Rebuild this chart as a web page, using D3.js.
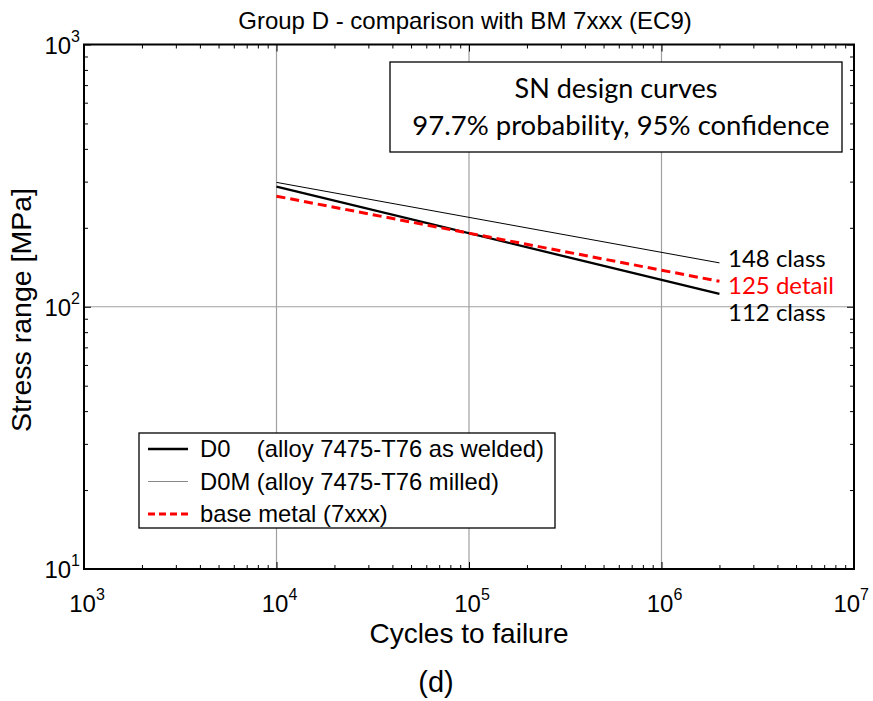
<!DOCTYPE html>
<html><head><meta charset="utf-8">
<script src="https://cdn.jsdelivr.net/npm/d3@7"></script>
<style>body{margin:0;background:#fff;} svg{display:block;}</style>
</head><body>
<svg id="chart" width="873" height="701"></svg>
<script>
const cycles = [1e4, 2e6];
const d0 = [287, 112];
const d0m = [298, 147];
const baseMetal = [264, 125];
const xTicks = [1e3, 1e4, 1e5, 1e6, 1e7];
const yTicks = [1e1, 1e2, 1e3];
const endLabels = ["148 class", "125 detail", "112 class"];
const legendLabels = ["D0    (alloy 7475-T76 as welded)", "D0M (alloy 7475-T76 milled)", "base metal (7xxx)"];

const svg = d3.select("#chart");
const L = 84, R = 854, T = 44.5, B = 569;
const x = d3.scaleLog().domain([1e3, 1e7]).range([L, R]);
const y = d3.scaleLog().domain([1e1, 1e3]).range([B, T]);
const ARIAL = "Liberation Sans, Arial, sans-serif";
const CAL = "Lato, Open Sans, sans-serif";

const minorX = [], minorY = [];
for (let e = 3; e < 7; e++) for (let k = 2; k <= 9; k++) minorX.push(k * Math.pow(10, e));
for (let e = 1; e < 3; e++) for (let k = 2; k <= 9; k++) minorY.push(k * Math.pow(10, e));

// grid
const g = svg.append("g");
g.selectAll(".gx").data([1e4, 1e5, 1e6]).join("line")
  .attr("x1", d => x(d)).attr("x2", d => x(d)).attr("y1", T).attr("y2", B)
  .attr("stroke", "#a0a0a0").attr("stroke-width", 1.2);
g.selectAll(".gy").data([1e2]).join("line")
  .attr("y1", d => y(d)).attr("y2", d => y(d)).attr("x1", L).attr("x2", R)
  .attr("stroke", "#a0a0a0").attr("stroke-width", 1.2);

// ticks (inside) on four sides
function tickAxis(axisFn, scale, vals, size, transform) {
  const a = axisFn(scale).tickValues(vals).tickSize(size).tickFormat("");
  const gg = svg.append("g").attr("transform", transform).call(a);
  gg.select(".domain").remove();
  gg.selectAll("line").attr("stroke", "#000").attr("stroke-width", 1);
  return gg;
}
tickAxis(d3.axisTop, x, minorX, 4, `translate(0,${B})`);
tickAxis(d3.axisTop, x, xTicks, 7, `translate(0,${B})`);
tickAxis(d3.axisBottom, x, minorX, 4, `translate(0,${T})`);
tickAxis(d3.axisBottom, x, xTicks, 7, `translate(0,${T})`);
tickAxis(d3.axisRight, y, minorY, 4, `translate(${L},0)`);
tickAxis(d3.axisRight, y, yTicks, 7, `translate(${L},0)`);
tickAxis(d3.axisLeft, y, minorY, 4, `translate(${R},0)`);
tickAxis(d3.axisLeft, y, yTicks, 7, `translate(${R},0)`);

// frame
svg.append("rect").attr("x", L).attr("y", T).attr("width", R - L).attr("height", B - T)
  .attr("fill", "none").attr("stroke", "#000").attr("stroke-width", 2);

// tick labels
const xl = svg.append("g").attr("font-family", ARIAL).attr("fill", "#000");
xTicks.forEach((v, i) => {
  const last = i === xTicks.length - 1;
  const t = xl.append("text").attr("x", last ? 869 : x(v) + 3).attr("y", 612)
    .attr("text-anchor", last ? "end" : "middle").attr("font-size", 24);
  t.append("tspan").text("10");
  t.append("tspan").attr("dy", -12).attr("font-size", 16).text(Math.round(Math.log10(v)));
});
yTicks.forEach(v => {
  const t = xl.append("text").attr("x", 80).attr("y", y(v) + 9).attr("text-anchor", "end").attr("font-size", 24);
  t.append("tspan").text("10");
  t.append("tspan").attr("dy", -12).attr("font-size", 16).text(Math.round(Math.log10(v)));
});

// series
const line = d3.line().x(d => x(d[0])).y(d => y(d[1]));
svg.append("path").datum(cycles.map((c, i) => [c, d0m[i]])).attr("d", line)
  .attr("fill", "none").attr("stroke", "#000").attr("stroke-width", 1);
svg.append("path").datum(cycles.map((c, i) => [c, d0[i]])).attr("d", line)
  .attr("fill", "none").attr("stroke", "#000").attr("stroke-width", 2.3);
svg.append("path").datum(cycles.map((c, i) => [c, baseMetal[i]])).attr("d", line)
  .attr("fill", "none").attr("stroke", "#ff0000").attr("stroke-width", 3).attr("stroke-dasharray", "9,5");

// end labels
const endCol = ["#000", "#ff0000", "#000"];
const endPos = [267, 294, 321];
endLabels.forEach((s, i) => {
  svg.append("text").attr("x", 728).attr("y", endPos[i]).attr("font-family", CAL)
    .attr("font-size", 24).attr("fill", endCol[i]).text(s);
});

// SN box
svg.append("rect").attr("x", 390).attr("y", 62).attr("width", 452).attr("height", 90)
  .attr("fill", "#fff").attr("stroke", "#000").attr("stroke-width", 1.3);
svg.append("text").attr("x", 616).attr("y", 98).attr("text-anchor", "middle")
  .attr("font-family", CAL).attr("font-size", 27).text("SN design curves");
svg.append("text").attr("x", 621).attr("y", 135).attr("text-anchor", "middle")
  .attr("font-family", CAL).attr("font-size", 27.5).text("97.7% probability, 95% confidence");

// legend
const lg = svg.append("g");
lg.append("rect").attr("x", 139).attr("y", 433).attr("width", 416).attr("height", 95)
  .attr("fill", "#fff").attr("stroke", "#000").attr("stroke-width", 1.3);
const legStyles = [
  {c: "#000", w: 2.3, dash: null},
  {c: "#888", w: 1, dash: null},
  {c: "#ff0000", w: 3, dash: "7,4"}
];
legendLabels.forEach((s, i) => {
  const yy = 449 + i * 32.5;
  lg.append("line").attr("x1", 148).attr("x2", 188).attr("y1", yy).attr("y2", yy)
    .attr("stroke", legStyles[i].c).attr("stroke-width", legStyles[i].w)
    .attr("stroke-dasharray", legStyles[i].dash);
  lg.append("text").attr("x", 200).attr("y", yy + 8).attr("font-family", ARIAL)
    .attr("font-size", 23.8).style("white-space", "pre").text(s);
});

// titles
svg.append("text").attr("x", 465).attr("y", 29).attr("text-anchor", "middle")
  .attr("font-family", ARIAL).attr("font-size", 24).text("Group D - comparison with BM 7xxx (EC9)");
svg.append("text").attr("x", 469).attr("y", 643).attr("text-anchor", "middle")
  .attr("font-family", ARIAL).attr("font-size", 28).text("Cycles to failure");
svg.append("text").attr("transform", "translate(31,310) rotate(-90)").attr("text-anchor", "middle")
  .attr("font-family", ARIAL).attr("font-size", 28.5).text("Stress range [MPa]");
svg.append("text").attr("x", 436).attr("y", 692).attr("text-anchor", "middle")
  .attr("font-family", ARIAL).attr("font-size", 29).text("(d)");
</script>
</body></html>
